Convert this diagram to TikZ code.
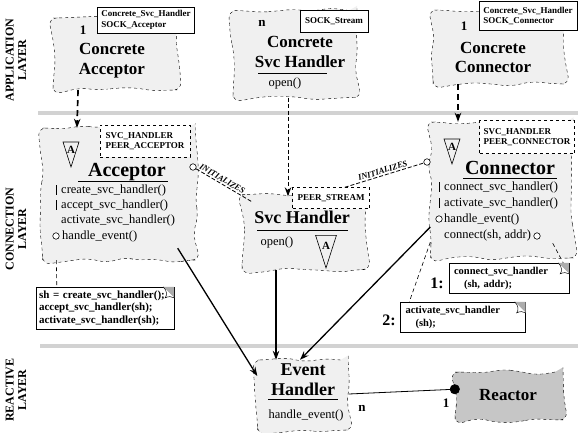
\documentclass[tikz,border=0pt]{standalone}
\usepackage{fontspec}
\setmainfont{Liberation Serif}
\usetikzlibrary{arrows.meta, positioning, calc, decorations.pathmorphing}
\tikzset{
  cloud_box/.style={draw, dashed, fill=gray!12, decorate, decoration={random steps, segment length=18pt, amplitude=3pt}, rounded corners=8pt, inner sep=0pt},
  reactor_box/.style={cloud_box, fill=gray!45},
  tag_box/.style={draw, fill=white, font=\fontsize{9}{10.5}\selectfont\bfseries, align=left, inner sep=2pt},
  tag_dashed/.style={tag_box, dashed},
  title_text/.style={font=\fontsize{18}{20}\selectfont\bfseries, align=center, inner sep=0pt},
  big_title/.style={font=\fontsize{20}{22}\selectfont\bfseries, inner sep=0pt},
  method_text/.style={font=\fontsize{12.5}{14}\selectfont, anchor=west, inner sep=0pt},
  note_box/.style={draw, fill=white, align=left, font=\fontsize{10.5}{13}\selectfont\bfseries, inner xsep=5pt, inner ysep=2pt},
  seq_num/.style={font=\fontsize{16}{16}\selectfont\bfseries, inner sep=0pt},
  mult_text/.style={font=\fontsize{13}{13}\selectfont\bfseries, inner sep=0pt},
  hook/.style={circle, draw, fill=white, inner sep=0pt, minimum size=6.5pt, line width=0.6pt},
  layer_text/.style={rotate=90, font=\fontsize{12}{12.5}\selectfont\bfseries, align=center},
  layer_line/.style={line width=3.5pt, gray!35},
  arrow/.style={->, >={Stealth[length=9pt,width=6.5pt]}, line width=1.3pt},
  dash_arrow/.style={arrow, dash pattern=on 6pt off 4pt, line width=1.7pt},
  thin_dash_arrow/.style={arrow, dash pattern=on 4pt off 2.5pt, line width=0.9pt},
  note_link/.style={dash pattern=on 4pt off 3pt, line width=0.6pt},
  init_link/.style={dash pattern=on 4pt off 2pt, line width=0.8pt},
  init_text/.style={sloped, above, font=\fontsize{8.5}{9}\selectfont\bfseries\itshape, inner sep=1.5pt},
  abs_tri/.pic={
    \draw[line width=0.6pt] (-8,-12) -- (8,-12) -- (0,13) -- cycle;
    \node[font=\fontsize{11}{11}\selectfont\bfseries, inner sep=0pt](-letter) at (0,-4) {A};
  },
  dog_ear/.pic={
    \fill[gray!65] (-11,0) -- (0,0) -- (0,11) -- cycle;
    \draw[fill=white, line width=0.5pt] (-11,0) .. controls (-7,4) and (-7,8) .. (-9,11) .. controls (-5,9) and (-3,10) .. (0,11);
  }
}

\begin{document}
\begin{tikzpicture}[x=1pt, y=-1pt]
  \useasboundingbox (0,0) rectangle (580,432);
  \fill[white] (0,0) rectangle (580,432);
  \pgfmathsetseed{11}

  % layers
  \draw[layer_line] (38,113) -- (578,113);
  \draw[layer_line] (40,346) -- (578,346);
  \node[layer_text](app_layer) at (16,60) {APPLICATION\\LAYER};
  \node[layer_text](con_layer) at (16,229) {CONNECTION\\LAYER};
  \node[layer_text](rea_layer) at (16,390) {REACTIVE\\LAYER};

  % application layer
  \node[cloud_box, minimum width=124pt, minimum height=72pt](cacc) at (115,54) {};
  \node[cloud_box, minimum width=124pt, minimum height=87pt](csvc) at (295,54) {};
  \node[cloud_box, minimum width=132pt, minimum height=74pt](ccon) at (499,47) {};

  \node[tag_box, minimum width=97pt, minimum height=26pt](cacc_tag) at (146,20) {Concrete\_Svc\_Handler\\SOCK\_Acceptor};
  \node[tag_box, minimum width=68pt, minimum height=22pt](csvc_tag) at (334,21) {SOCK\_Stream};
  \node[tag_box, minimum width=98pt, minimum height=29pt](ccon_tag) at (528,16) {Concrete\_Svc\_Handler\\SOCK\_Connector};

  \node[mult_text](cacc_mult) at (83,30) {1};
  \node[title_text, font=\fontsize{17}{20}\selectfont\bfseries](cacc_title) at (112,61) {Concrete\\Acceptor};
  \node[mult_text](csvc_mult) at (262,23) {n};
  \node[title_text, font=\fontsize{17}{20}\selectfont\bfseries](csvc_title) at (300,52) {Concrete\\Svc Handler};
  \draw[line width=0.8pt] (258,73) -- (327,73);
  \node[method_text, anchor=center](csvc_open) at (285,83) {open()};
  \node[mult_text](ccon_mult) at (464,26) {1};
  \node[title_text, font=\fontsize{17}{19}\selectfont\bfseries](ccon_title) at (493,57) {Concrete\\Connector};

  % connection layer
  \node[cloud_box, minimum width=153pt, minimum height=132pt](acc) at (119,194) {};
  \node[cloud_box, minimum width=124pt, minimum height=75pt](svc) at (304,232) {};
  \node[cloud_box, minimum width=143pt, minimum height=136pt](con) at (502,190) {};

  \node[tag_dashed, minimum width=90pt, minimum height=32pt](acc_tag) at (145,141) {SVC\_HANDLER\\PEER\_ACCEPTOR};
  \node[tag_dashed, minimum width=77pt, minimum height=21pt](svc_tag) at (331,198) {PEER\_STREAM};
  \node[tag_dashed, minimum width=95pt, minimum height=33pt](con_tag) at (527,137) {SVC\_HANDLER\\PEER\_CONNECTOR};

  \pic (acc_tri) at (71,154) {abs_tri};
  \pic[scale=1.3] (svc_tri) at (326,251) {abs_tri};
  \pic (con_tri) at (452,151) {abs_tri};

  \node[big_title](acc_title) at (127,172) {Acceptor};
  \draw[line width=0.8pt] (78,181) -- (168,181);
  \node[method_text](acc_m1) at (61,190) {create\_svc\_handler()};
  \node[method_text](acc_m2) at (61,205) {accept\_svc\_handler()};
  \node[method_text](acc_m3) at (61,220) {activate\_svc\_handler()};
  \node[method_text](acc_m4) at (62,236) {handle\_event()};
  \draw[line width=0.6pt] (56,185) -- (56,195) (56,200) -- (56,210);
  \node[hook](acc_hook_ev) at (56,236) {};
  \node[hook](acc_hook) at (193,167) {};

  \node[title_text](svc_title) at (302,217) {Svc Handler};
  \draw[line width=0.8pt] (257,230) -- (348,230);
  \node[method_text, anchor=center](svc_open) at (277,242) {open()};

  \node[big_title](con_title) at (510,168) {Connector};
  \draw[line width=0.8pt] (463,178) -- (557,178);
  \node[method_text](con_m1) at (444,187) {connect\_svc\_handler()};
  \node[method_text](con_m2) at (444,203) {activate\_svc\_handler()};
  \node[method_text](con_m3) at (444,219) {handle\_event()};
  \node[method_text](con_m4) at (444,235) {connect(sh, addr)};
  \draw[line width=0.6pt] (439,182) -- (439,192) (439,198) -- (439,208);
  \node[hook](con_hook_ev) at (439,219) {};
  \node[hook](con_hook_cn) at (537,236) {};
  \node[hook](con_hook) at (427,162) {};

  % notes
  \node[note_box, font=\fontsize{11}{12.5}\selectfont\bfseries, inner xsep=3pt, text width=132pt, minimum height=42pt](acc_note) at (105,308) {sh = create\_svc\_handler();\\accept\_svc\_handler(sh);\\activate\_svc\_handler(sh);};
  \pic (acc_ear) at (acc_note.north east) {dog_ear};
  \node[note_box, text width=110pt, minimum height=30pt](con_note1) at (509,278) {connect\_svc\_handler\\\hspace*{10pt}(sh, addr);};
  \pic (con_ear1) at (con_note1.north east) {dog_ear};
  \node[note_box, text width=115pt, minimum height=30pt](con_note2) at (463,317) {activate\_svc\_handler\\\hspace*{10pt}(sh);};
  \pic (con_ear2) at (con_note2.north east) {dog_ear};
  \node[seq_num](num1) at (437,283) {1:};
  \node[seq_num](num2) at (389,320) {2:};

  \draw[note_link] ([xshift=14pt]acc.south west) -- ([xshift=21pt]acc_note.north west);
  \draw[note_link] ([yshift=16pt]con.south west) -- ([xshift=9pt]con_note2.north west);
  \draw[note_link] ([xshift=-21pt,yshift=15pt]con.south east) -- ([xshift=-6pt]con_note1.north east);

  % reactive layer
  \node[cloud_box, minimum width=91pt, minimum height=70pt](evh) at (303,395) {};
  \node[reactor_box, minimum width=108pt, minimum height=48pt](reac) at (509,396) {};
  \node[title_text](evh_title) at (303,380) {Event\\Handler};
  \draw[line width=0.8pt] (268,399) -- (338,399);
  \node[method_text, anchor=center](evh_ev) at (306,415) {handle\_event()};
  \node[title_text, font=\fontsize{17}{20}\selectfont\bfseries](reac_title) at (508,395) {Reactor};
  \node[mult_text](evh_mult) at (362,408) {n};
  \node[mult_text](reac_mult) at (446,403) {1};

  % connectors
  \draw[dash_arrow] ([xshift=-37pt]cacc.south) -- ([xshift=-42pt]acc.north);
  \draw[thin_dash_arrow] ([xshift=-7pt]csvc.south) -- ([xshift=-16pt,yshift=-2pt]svc.north);
  \draw[dash_arrow] ([xshift=-41pt]ccon.south) -- ([xshift=-44pt]con.north);

  \draw[init_link] (acc_hook) -- node[init_text, pos=0.42]{INITIALIZES} ([xshift=11pt,yshift=-8pt]svc.north west);
  \draw[init_link] ([xshift=-25pt]svc_tag.north east) -- node[init_text]{INITIALIZES} (con_hook);

  \draw[arrow] ([xshift=-18pt,yshift=12pt]acc.south east) -- ([yshift=19pt]evh.west);
  \draw[arrow] ([xshift=-28pt]svc.south) -- ([xshift=-27pt]evh.north);
  \draw[arrow] ([yshift=-37pt]con.west) -- ([xshift=-3pt]evh.north);
  \draw[-{Circle[length=10pt]}, line width=0.8pt] ([yshift=1pt]evh.east) -- ([xshift=5pt,yshift=7pt]reac.west);
\end{tikzpicture}
\end{document}
